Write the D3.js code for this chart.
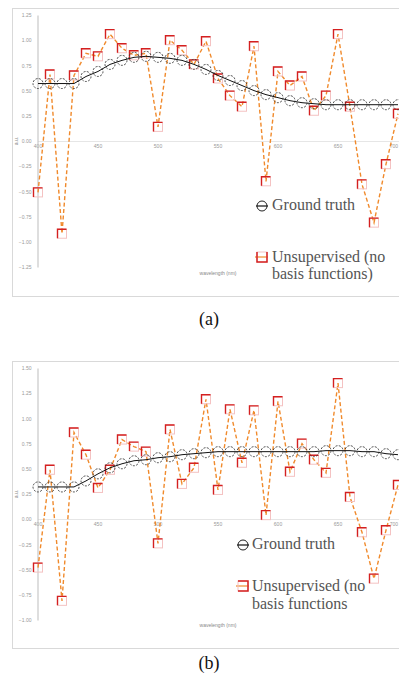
<!DOCTYPE html>
<html>
<head>
<meta charset="utf-8">
<script src="https://cdn.jsdelivr.net/npm/d3@7"></script>
<style>
  html, body { margin: 0; padding: 0; background: #fff; }
  svg { display: block; }
</style>
</head>
<body>
<div id="container"></div>
<script>
// wavelength categories (nm)
const wavelengths = [400, 410, 420, 430, 440, 450, 460, 470, 480, 490, 500, 510, 520, 530, 540, 550,
  560, 570, 580, 590, 600, 610, 620, 630, 640, 650, 660, 670, 680, 690, 700];
const xTicks = [400, 450, 500, 550, 600, 650, 700];

// panel (a)
const truthA = [0.57, 0.57, 0.57, 0.57, 0.64, 0.69, 0.76, 0.80, 0.83, 0.84, 0.83, 0.82, 0.80, 0.76, 0.71, 0.65,
  0.60, 0.55, 0.50, 0.46, 0.43, 0.40, 0.38, 0.37, 0.36, 0.36, 0.36, 0.36, 0.36, 0.36, 0.36];
const unsupA = [-0.51, 0.66, -0.92, 0.65, 0.87, 0.84, 1.06, 0.92, 0.85, 0.87, 0.14, 1.00, 0.90, 0.76, 0.99, 0.62,
  0.45, 0.34, 0.94, -0.40, 0.69, 0.55, 0.64, 0.30, 0.45, 1.06, 0.34, -0.43, -0.81, -0.23, 0.27];
const yTicksA = [-1.25, -1.0, -0.75, -0.5, -0.25, 0, 0.25, 0.5, 0.75, 1.0, 1.25];

// panel (b)
const truthB = [0.32, 0.32, 0.32, 0.32, 0.38, 0.45, 0.51, 0.55, 0.58, 0.59, 0.61, 0.62, 0.64, 0.65, 0.66, 0.67,
  0.67, 0.67, 0.67, 0.67, 0.67, 0.67, 0.67, 0.67, 0.68, 0.68, 0.68, 0.67, 0.67, 0.65, 0.64];
const unsupB = [-0.48, 0.49, -0.81, 0.86, 0.64, 0.31, 0.49, 0.79, 0.72, 0.67, -0.24, 0.89, 0.35, 0.51, 1.19, 0.29,
  1.09, 0.56, 1.08, 0.04, 1.17, 0.47, 0.75, 0.59, 0.46, 1.35, 0.22, -0.13, -0.59, -0.11, 0.34];
const yTicksB = [-1.0, -0.75, -0.5, -0.25, 0, 0.25, 0.5, 0.75, 1.0, 1.25, 1.5];

const width = 399, height = 681;
const svg = d3.select("#container").append("svg")
  .attr("width", width).attr("height", height)
  .attr("viewBox", [0, 0, width, height]);
svg.append("rect").attr("width", width).attr("height", height).attr("fill", "#fff");

const ORANGE = "#f08a2c", RED = "#d42020", PINK = "#f4c2c2";
const SERIF = "'Liberation Serif', 'Times New Roman', serif";
const SANS = "'Liberation Sans', Arial, sans-serif";

function panel(o) {
  const g = svg.append("g");

  // chart frame (runs past the right edge, as in the original crop)
  g.append("rect")
    .attr("x", 12.5).attr("y", o.top + 0.5)
    .attr("width", 420).attr("height", o.bottom - o.top)
    .attr("fill", "none").attr("stroke", "#d9d9d9").attr("stroke-width", 1);

  const x = d3.scaleLinear().domain([400, 700]).range([38, 398]);
  const y = d3.scaleLinear().domain(o.yDomain).range(o.yRange);

  // x axis at zero
  g.append("line")
    .attr("x1", 38).attr("x2", 420)
    .attr("y1", Math.round(y(0)) + 0.5).attr("y2", Math.round(y(0)) + 0.5)
    .attr("stroke", "#e6e6e6");
  g.selectAll(".xt").data(xTicks).enter().append("text")
    .attr("x", d => d === 700 ? 398 : x(d)).attr("y", y(0) + 7)
    .attr("text-anchor", d => d === 700 ? "end" : "middle")
    .attr("font-family", SANS).attr("font-size", 5).attr("fill", "#999")
    .text(d => d);

  // y axis
  const yAxis = d3.axisLeft(y).tickValues(o.yTicks).tickSize(0).tickPadding(6)
    .tickFormat(d3.format(".2f"));
  const ya = g.append("g").attr("transform", "translate(37.5,0)").call(yAxis);
  ya.select(".domain").attr("stroke", "#bdbdbd");
  ya.selectAll("text").attr("font-family", SANS).attr("font-size", 5).attr("fill", "#999");

  // axis titles
  g.append("text")
    .attr("transform", `translate(18,${o.yTitle}) rotate(-90)`)
    .attr("text-anchor", "middle")
    .attr("font-family", SANS).attr("font-size", 5).attr("fill", "#888")
    .text("a.u.");
  g.append("text")
    .attr("x", 218).attr("y", o.xTitle)
    .attr("text-anchor", "middle")
    .attr("font-family", SANS).attr("font-size", 5).attr("fill", "#888")
    .text("wavelength (nm)");

  const clip = "clip-" + o.id;
  g.append("clipPath").attr("id", clip).append("rect")
    .attr("x", 13).attr("y", o.top + 1).attr("width", 386).attr("height", o.bottom - o.top - 1);
  const plot = g.append("g").attr("clip-path", `url(#${clip})`);

  const line = d3.line().x((d, i) => x(wavelengths[i])).y(d => y(d));

  // unsupervised series
  plot.append("path").datum(o.unsup)
    .attr("d", line).attr("fill", "none")
    .attr("stroke", ORANGE).attr("stroke-width", 1.4)
    .attr("stroke-dasharray", "4,2.5");
  const s = 9;
  const sq = plot.selectAll(".sq").data(o.unsup).enter().append("g")
    .attr("transform", (d, i) => `translate(${x(wavelengths[i])},${y(d)})`);
  sq.append("rect")
    .attr("x", -s / 2).attr("y", -s / 2).attr("width", s).attr("height", s)
    .attr("fill", "none").attr("stroke", PINK).attr("stroke-width", 1);
  sq.append("path")
    .attr("d", `M${-s / 2},${s / 2}V${-s / 2}H${s / 2}`)
    .attr("fill", "none").attr("stroke", RED).attr("stroke-width", 1.4);

  // ground truth series
  plot.append("path").datum(o.truth)
    .attr("d", line).attr("fill", "none")
    .attr("stroke", "#111").attr("stroke-width", 1);
  plot.selectAll(".ci").data(o.truth).enter().append("circle")
    .attr("cx", (d, i) => x(wavelengths[i])).attr("cy", d => y(d)).attr("r", 5)
    .attr("fill", "none").attr("stroke", "#333").attr("stroke-width", 0.9)
    .attr("stroke-dasharray", "2,1.4");

  // legend
  const lg = g.append("g").attr("font-family", SERIF).attr("font-size", 16).attr("fill", "#555");
  const L = o.legend;
  lg.append("line").attr("x1", L.mx - 6).attr("x2", L.mx + 6).attr("y1", L.y1 - 4).attr("y2", L.y1 - 4)
    .attr("stroke", "#111").attr("stroke-width", 1.2);
  lg.append("circle").attr("cx", L.mx).attr("cy", L.y1 - 4).attr("r", 5)
    .attr("fill", "none").attr("stroke", "#222").attr("stroke-width", 1);
  lg.append("text").attr("x", L.tx).attr("y", L.y1).text("Ground truth");
  lg.append("line").attr("x1", L.mx - 7).attr("x2", L.mx + 6).attr("y1", L.y2 - 5).attr("y2", L.y2 - 5)
    .attr("stroke", ORANGE).attr("stroke-width", 1.2);
  lg.append("rect").attr("x", L.mx - 5).attr("y", L.y2 - 10).attr("width", 10).attr("height", 10)
    .attr("fill", "none").attr("stroke", PINK);
  lg.append("path").attr("d", L.markPath)
    .attr("fill", "none").attr("stroke", RED).attr("stroke-width", 1.5);
  lg.append("text").attr("x", L.tx).attr("y", L.y2).text("Unsupervised (no");
  lg.append("text").attr("x", L.tx).attr("y", L.y3).text(L.line3);

  // caption
  svg.append("text")
    .attr("x", 209).attr("y", o.caption)
    .attr("text-anchor", "middle")
    .attr("font-family", SERIF).attr("font-size", 18).attr("fill", "#111")
    .text(o.label);
}

panel({
  id: "a", top: 8, bottom: 296, yDomain: [-1.25, 1.25], yRange: [267, 15], yTicks: yTicksA,
  truth: truthA, unsup: unsupA, yTitle: 141, xTitle: 275, caption: 325, label: "(a)",
  legend: {
    mx: 262, tx: 272, y1: 210, y2: 262, y3: 279, line3: "basis functions)",
    markPath: `M257,252V262H267V252`
  }
});

panel({
  id: "b", top: 361, bottom: 648, yDomain: [-1.0, 1.5], yRange: [620, 368], yTicks: yTicksB,
  truth: truthB, unsup: unsupB, yTitle: 494, xTitle: 627, caption: 669, label: "(b)",
  legend: {
    mx: 243, tx: 252, y1: 549, y2: 591, y3: 609, line3: "basis functions",
    markPath: `M238,581H248V591H238`
  }
});
</script>
</body>
</html>
